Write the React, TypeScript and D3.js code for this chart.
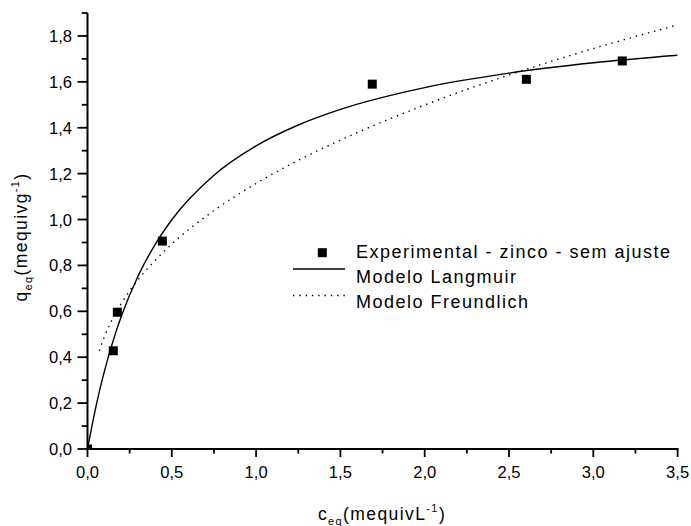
import React from "react";
import * as d3 from "d3";

// Experimental data (c_eq, q_eq)
const expC = [0.0, 0.153, 0.177, 0.444, 1.689, 2.603, 3.172];
const expQ = [0.0, 0.428, 0.596, 0.906, 1.59, 1.611, 1.691];

// Langmuir model curve
const langC = [0, 0.05, 0.1, 0.15, 0.2, 0.3, 0.4, 0.5, 0.75, 1.0, 1.25, 1.5, 2.0, 2.5, 3.0, 3.5];
const langQ = [0, 0.185, 0.338, 0.467, 0.577, 0.754, 0.89, 0.999, 1.193, 1.321, 1.412, 1.48, 1.575, 1.638, 1.683, 1.716];

// Freundlich model curve
const freuC = [0.07, 0.1, 0.15, 0.2, 0.3, 0.4, 0.5, 0.75, 1.0, 1.25, 1.5, 2.0, 2.5, 3.0, 3.48];
const freuQ = [0.428, 0.489, 0.569, 0.634, 0.737, 0.821, 0.893, 1.039, 1.157, 1.258, 1.346, 1.499, 1.63, 1.745, 1.844];

const xMajor = [0, 0.5, 1.0, 1.5, 2.0, 2.5, 3.0, 3.5];
const xMinor = [0.25, 0.75, 1.25, 1.75, 2.25, 2.75, 3.25];
const yMajor = [0, 0.2, 0.4, 0.6, 0.8, 1.0, 1.2, 1.4, 1.6, 1.8];
const yMinor = [0.1, 0.3, 0.5, 0.7, 0.9, 1.1, 1.3, 1.5, 1.7, 1.9];

const legendLabels = ["Experimental - zinco - sem ajuste", "Modelo Langmuir", "Modelo Freundlich"];

const W = 691;
const H = 526;
const FONT = "'Liberation Sans', Arial, Helvetica, sans-serif";

export default function App() {
  const x = d3.scaleLinear().domain([0, 3.5]).range([87.5, 677.6]);
  const y = d3.scaleLinear().domain([0, 1.9]).range([449, 13]);
  const fmt = (v: number) => v.toFixed(1).replace(".", ",");

  const line = d3
    .line<[number, number]>()
    .x((d) => x(d[0]))
    .y((d) => y(d[1]))
    .curve(d3.curveMonotoneX);

  const langPath = line(langC.map((c, i) => [c, langQ[i]] as [number, number])) || "";
  const freuPath = line(freuC.map((c, i) => [c, freuQ[i]] as [number, number])) || "";

  const sq = 9;
  const x0 = x(0);
  const y0 = y(0);

  return (
    <svg
      width={W}
      height={H}
      style={{ position: "absolute", left: 0, top: 0, background: "#fff" }}
      fontFamily={FONT}
    >
      <defs>
        <clipPath id="plotClip">
          <rect x={x0} y={y(1.9)} width={x(3.5) - x0} height={y0 - y(1.9)} />
        </clipPath>
      </defs>
      <rect x={0} y={0} width={W} height={H} fill="#fff" />

      {/* curves */}
      <g clipPath="url(#plotClip)">
        <path d={langPath} fill="none" stroke="#000" strokeWidth={1.4} />
        <path d={freuPath} fill="none" stroke="#000" strokeWidth={1.4} strokeDasharray="1.4,4.9" />
        {expC.map((c, i) => (
          <rect key={i} x={x(c) - sq / 2} y={y(expQ[i]) - sq / 2} width={sq} height={sq} fill="#000" />
        ))}
      </g>

      {/* axes */}
      <line x1={x0} x2={x0} y1={y(1.9)} y2={y0 + 1} stroke="#000" strokeWidth={2} />
      <line x1={x0 - 1} x2={x(3.5) + 1} y1={y0} y2={y0} stroke="#000" strokeWidth={2} />

      {xMajor.map((v) => (
        <g key={"xm" + v}>
          <line x1={x(v)} x2={x(v)} y1={y0} y2={y0 + 8} stroke="#000" strokeWidth={1.8} />
          <text x={x(v)} y={478} textAnchor="middle" fontSize={16.6} fill="#000">
            {fmt(v)}
          </text>
        </g>
      ))}
      {xMinor.map((v) => (
        <line key={"xn" + v} x1={x(v)} x2={x(v)} y1={y0} y2={y0 + 4.5} stroke="#000" strokeWidth={1.8} />
      ))}
      {yMajor.map((v) => (
        <g key={"ym" + v}>
          <line x1={x0 - 10} x2={x0} y1={y(v)} y2={y(v)} stroke="#000" strokeWidth={1.8} />
          <text x={72} y={y(v) + 6} textAnchor="end" fontSize={16.6} fill="#000">
            {fmt(v)}
          </text>
        </g>
      ))}
      {yMinor.map((v) => (
        <line key={"yn" + v} x1={x0 - 5.7} x2={x0} y1={y(v)} y2={y(v)} stroke="#000" strokeWidth={1.8} />
      ))}

      {/* x title */}
      <text x={382} y={520} textAnchor="middle" fontSize={17.5} fill="#000" letterSpacing={1.4}>
        <tspan>c</tspan>
        <tspan fontSize={11} dy={5}>eq</tspan>
        <tspan dy={-5}>(mequivL</tspan>
        <tspan fontSize={11} dy={-8}>-1</tspan>
        <tspan dy={8}>)</tspan>
      </text>

      {/* y title */}
      <text
        transform={`translate(27,237) rotate(-90)`}
        textAnchor="middle"
        fontSize={17.5}
        fill="#000"
        letterSpacing={1.4}
      >
        <tspan>q</tspan>
        <tspan fontSize={11} dy={5}>eq</tspan>
        <tspan dy={-5}>(mequivg</tspan>
        <tspan fontSize={11} dy={-8}>-1</tspan>
        <tspan dy={8}>)</tspan>
      </text>

      {/* legend */}
      <rect x={322.3 - sq / 2} y={252.7 - sq / 2} width={sq} height={sq} fill="#000" />
      <line x1={293} x2={345} y1={269} y2={269} stroke="#000" strokeWidth={1.4} />
      <line x1={293} x2={345} y1={295.5} y2={295.5} stroke="#000" strokeWidth={1.4} strokeDasharray="1.4,4.9" />
      {legendLabels.map((t, i) => (
        <text key={t} x={356} y={258.3 + i * 25} fontSize={18} fill="#000" letterSpacing={1.5}>
          {t}
        </text>
      ))}
    </svg>
  );
}
